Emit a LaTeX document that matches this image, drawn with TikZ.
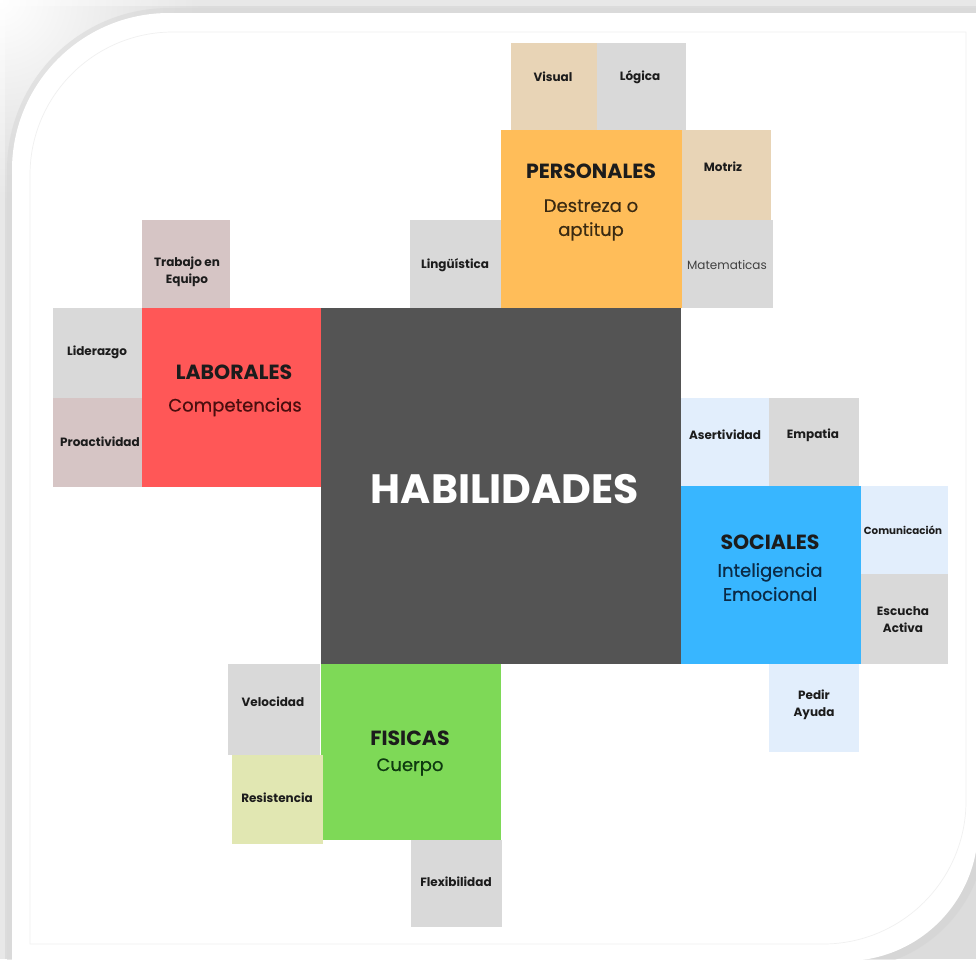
\documentclass[tikz,border=0pt]{standalone}
\usepackage{fontspec}
\setmainfont{Poppins}
\newfontface\medfont{Poppins}[FakeBold=0.5]
\definecolor{bgray}{HTML}{DCDCDC}
\definecolor{cdark}{HTML}{545454}
\definecolor{cred}{HTML}{FF5757}
\definecolor{corange}{HTML}{FFBD59}
\definecolor{cblue}{HTML}{38B6FF}
\definecolor{cgreen}{HTML}{7ED957}
\definecolor{cgray}{HTML}{D9D9D9}
\definecolor{ctan}{HTML}{E8D4B6}
\definecolor{cpink}{HTML}{D6C5C5}
\definecolor{clblue}{HTML}{E2EEFC}
\definecolor{cyel}{HTML}{E1E7B2}
\definecolor{tbrown}{HTML}{3A2A12}
\definecolor{tred}{HTML}{4A0E0E}
\definecolor{tblue}{HTML}{0B2A45}
\definecolor{tgreen}{HTML}{0E3A10}
\definecolor{tlab}{HTML}{1C1C1C}
\newcommand\skbox[6]{\node[blk, fill=#2, minimum width=#5pt-#3pt, minimum height=#6pt-#4pt] (#1) at ({(#3+#5)/2},{(#4+#6)/2}) {};}
\begin{document}
\begin{tikzpicture}[x=1pt,y=-1pt,
  blk/.style={rectangle, inner sep=0pt, outer sep=0pt, draw=none},
  lbl/.style={font=\bfseries\fontsize{12}{17}\selectfont, text=tlab, align=center, inner sep=0pt},
  ttl/.style={font=\bfseries\fontsize{20.5}{22}\selectfont, text=tlab, inner sep=0pt},
  sub/.style={font=\medfont\fontsize{18}{24}\selectfont, align=center, inner sep=0pt}]
\useasboundingbox (0,0) rectangle (976,959);
% background and paper
\begin{scope}
\clip (0,0) rectangle (976,959);
\fill[bgray] (0,0) rectangle (976,959);
\shade[inner color=white, outer color=bgray] (0,0) circle[radius=200];
\fill[white, opacity=0.35] (0,0) rectangle (976,6);
\fill[white, opacity=0.35] (0,6) rectangle (5,959);
\draw[line width=10pt, gray!30, opacity=0.6] (12,1000) -- (12,170) arc[start angle=180, end angle=270, radius=157] -- (1000,13);
\draw[line width=16pt, gray!35, opacity=0.5] (1000,828) -- (978,828) arc[start angle=0, end angle=90, radius=133] -- (845,1000);
\fill[white] (12,1000) -- (12,170) arc[start angle=180, end angle=270, radius=157] -- (1000,13) -- (1000,828) -- (978,828) arc[start angle=0, end angle=90, radius=133] -- (845,1000) -- cycle;
\end{scope}
\draw[gray!12, line width=0.7pt] (30,944) -- (30,175) arc[start angle=180, end angle=270, radius=143] -- (966,32) -- (966,801) arc[start angle=0, end angle=90, radius=143] -- cycle;
% boxes
\skbox{hab}{cdark}{321}{308}{681}{664}
\skbox{lab}{cred}{142}{308}{321}{487}
\skbox{trab}{cpink}{142}{220}{230}{308}
\skbox{lid}{cgray}{53}{308}{142}{398}
\skbox{pro}{cpink}{53}{398}{142}{487}
\skbox{per}{corange}{501}{130}{682}{308}
\skbox{vis}{ctan}{511}{43}{597}{130}
\skbox{log}{cgray}{597}{43}{686}{130}
\skbox{mot}{ctan}{682}{130}{771}{220}
\skbox{mat}{cgray}{682}{220}{773}{308}
\skbox{lin}{cgray}{410}{220}{501}{308}
\skbox{soc}{cblue}{681}{486}{861}{664}
\skbox{ase}{clblue}{681}{398}{769}{486}
\skbox{emp}{cgray}{769}{398}{859}{486}
\skbox{com}{clblue}{861}{486}{948}{574}
\skbox{esc}{cgray}{861}{574}{948}{664}
\skbox{ped}{clblue}{769}{664}{859}{752}
\skbox{fis}{cgreen}{321}{664}{501}{840}
\skbox{vel}{cgray}{228}{664}{320}{755}
\skbox{res}{cyel}{232}{755}{323}{844}
\skbox{flex}{cgray}{411}{840}{502}{927}
% texts
\node[font=\bfseries\fontsize{41}{44}\selectfont, text=white, inner sep=0pt] (thab) at (505,489) {HABILIDADES};
\node[ttl] (tper) at (591,171) {PERSONALES};
\node[sub, text=tbrown] (tpersub) at (591,220) {Destreza o\\aptitup};
\node[ttl] (tlab) at (234,372) {LABORALES};
\node[sub, text=tred] (tlabsub) at (235,407) {Competencias};
\node[ttl] (tsoc) at (770,542) {SOCIALES};
\node[sub, text=tblue] (tsocsub) at (770,582) {Inteligencia\\Emocional};
\node[ttl] (tfis) at (410,738) {FISICAS};
\node[sub, text=tgreen] (tfissub) at (410,767) {Cuerpo};
\node[lbl] (tvis) at (553,77) {Visual};
\node[lbl] (tlog) at (640,77) {Lógica};
\node[lbl] (tmot) at (723,167) {Motriz};
\node[lbl, font=\fontsize{12}{17}\selectfont, text=black!75] (tmat) at (727,265) {Matematicas};
\node[lbl] (tlin) at (455,265) {Lingüística};
\node[lbl] (ttrab) at (187,272) {Trabajo en\\Equipo};
\node[lbl] (tlid) at (97,352) {Liderazgo};
\node[lbl] (tpro) at (100,442) {Proactividad};
\node[lbl] (tase) at (725,435) {Asertividad};
\node[lbl] (temp) at (813,435) {Empatia};
\node[lbl, font=\bfseries\fontsize{10.3}{17}\selectfont] (tcom) at (903,530) {Comunicación};
\node[lbl] (tesc) at (903,620) {Escucha\\Activa};
\node[lbl] (tped) at (814,705) {Pedir\\Ayuda};
\node[lbl] (tvel) at (273,702) {Velocidad};
\node[lbl] (tres) at (277,798) {Resistencia};
\node[lbl] (tflex) at (456,882) {Flexibilidad};
\end{tikzpicture}
\end{document}
